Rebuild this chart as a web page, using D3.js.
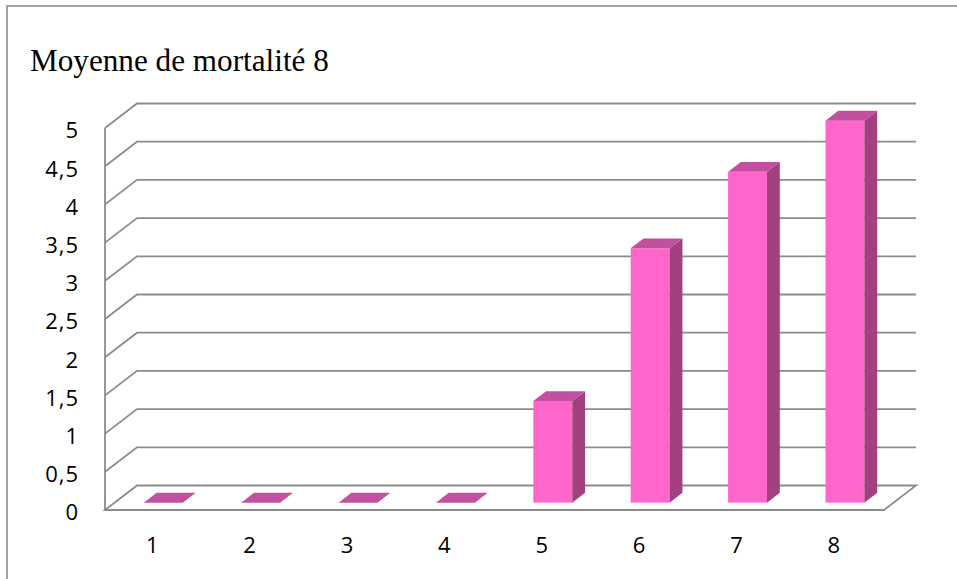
<!DOCTYPE html>
<html>
<head>
<meta charset="utf-8">
<script src="https://cdn.jsdelivr.net/npm/d3@7"></script>
<style>
  html, body { margin: 0; padding: 0; background: #fff; }
  svg { display: block; }
</style>
</head>
<body>
<svg id="chart" width="957" height="579"></svg>
<script>
// Mortality means per category
const categories = ["1", "2", "3", "4", "5", "6", "7", "8"];
const values = [0, 0, 0, 0, 1.33, 3.33, 4.33, 5];
const yTicks = [0, 0.5, 1, 1.5, 2, 2.5, 3, 3.5, 4, 4.5, 5];
const titleText = "Moyenne de mortalité 8";

const svg = d3.select("#chart");

// Plot frame (front plane) and 3-D depth offset
const plot = { left: 105, right: 884, bottom: 510, top: 128 };
const depth = { dx: 32, dy: -24.5 };
const barDepthStart = 0.3, barDepthEnd = 0.7;

const x = d3.scaleBand()
  .domain(categories)
  .range([plot.left, plot.right])
  .paddingInner(0.6)
  .paddingOuter(0.3);

const y = d3.scaleLinear()
  .domain([0, 5])
  .range([plot.bottom, plot.top]);

const grid = "#8c8c8c";
const labelFont = "'Open Sans', Lato, sans-serif";

// outer chart border
svg.append("rect")
  .attr("x", 7).attr("y", 6)
  .attr("width", 1000).attr("height", 700)
  .attr("fill", "none")
  .attr("stroke", grid)
  .attr("stroke-width", 1.6);

// title
svg.append("text")
  .attr("x", 30).attr("y", 71)
  .attr("font-family", "'Liberation Serif', 'Times New Roman', serif")
  .attr("font-size", 31.2)
  .attr("fill", "#000")
  .text(titleText);

// floor
const x0 = plot.left, x1 = plot.right;
const yb = y(0);
svg.append("path")
  .attr("d", `M${x0},${yb}L${x1},${yb}L${x1 + depth.dx},${yb + depth.dy}L${x0 + depth.dx},${yb + depth.dy}Z`)
  .attr("fill", "none")
  .attr("stroke", grid)
  .attr("stroke-width", 1.8)
  .attr("stroke-linejoin", "miter");

// gridlines on the side wall and back wall
const gridG = svg.append("g")
  .attr("fill", "none")
  .attr("stroke", grid)
  .attr("stroke-width", 1.8);
yTicks.filter(v => v > 0).forEach(v => {
  const yy = y(v);
  gridG.append("path")
    .attr("d", `M${x0},${yy}L${x0 + depth.dx},${yy + depth.dy}L${x1 + depth.dx},${yy + depth.dy}`);
});

// front edge of the side wall
svg.append("line")
  .attr("x1", x0).attr("x2", x0)
  .attr("y1", y(5)).attr("y2", yb)
  .attr("stroke", grid)
  .attr("stroke-width", 1.8);

// y tick labels
const fmt = v => String(v).replace(".", ",");
svg.append("g")
  .attr("font-family", labelFont)
  .attr("font-size", 22)
  .attr("letter-spacing", 1)
  .attr("fill", "#000")
  .attr("text-anchor", "end")
  .selectAll("text")
  .data(yTicks)
  .join("text")
  .attr("x", 79)
  .attr("y", d => y(d) + 10.3)
  .text(fmt);

// x category labels
svg.append("g")
  .attr("font-family", labelFont)
  .attr("font-size", 22)
  .attr("fill", "#000")
  .attr("text-anchor", "middle")
  .selectAll("text")
  .data(categories)
  .join("text")
  .attr("x", d => x(d) + x.bandwidth() / 2 - 1.5)
  .attr("y", 553)
  .text(d => d);

// 3-D bars
const fdx = depth.dx * barDepthStart, fdy = depth.dy * barDepthStart;
const ddx = depth.dx * (barDepthEnd - barDepthStart), ddy = depth.dy * (barDepthEnd - barDepthStart);
const colFront = "#ff66cc", colSide = "#a3407f", colTop = "#c24fa0";

const bars = svg.append("g").selectAll("g")
  .data(categories.map((c, i) => ({ c, v: values[i] })))
  .join("g");

bars.each(function (d) {
  const g = d3.select(this);
  const bx = x(d.c) + fdx;
  const bw = x.bandwidth();
  const yTop = y(d.v) + fdy;
  const yBot = y(0) + fdy;
  if (d.v > 0) {
    g.append("rect")
      .attr("x", bx).attr("y", yTop)
      .attr("width", bw).attr("height", yBot - yTop)
      .attr("fill", colFront);
    g.append("path")
      .attr("d", `M${bx + bw},${yTop}L${bx + bw + ddx},${yTop + ddy}L${bx + bw + ddx},${yBot + ddy}L${bx + bw},${yBot}Z`)
      .attr("fill", colSide);
  }
  g.append("path")
    .attr("d", `M${bx},${yTop}L${bx + ddx},${yTop + ddy}L${bx + bw + ddx},${yTop + ddy}L${bx + bw},${yTop}Z`)
    .attr("fill", colTop);
});
</script>
</body>
</html>
